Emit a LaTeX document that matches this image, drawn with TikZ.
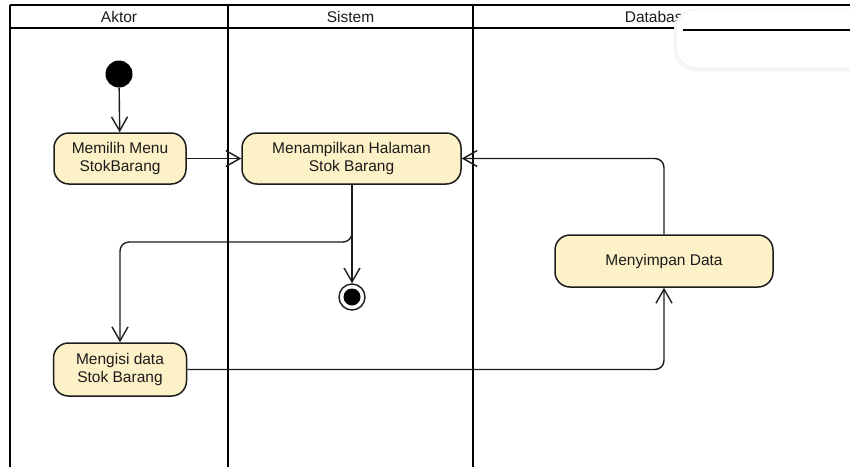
\documentclass[tikz,border=0pt]{standalone}
\usepackage{fontspec}
\setmainfont{Liberation Sans}
\usetikzlibrary{arrows.meta}
\definecolor{actfill}{RGB}{253,241,199}
\definecolor{ink}{RGB}{28,28,28}
\begin{document}
\begin{tikzpicture}[x=1pt,y=-1pt,
  lane/.style={line width=2.8pt,black},
  hdr/.style={font=\fontsize{15.5}{18}\selectfont,text=ink},
  action/.style={draw=ink,line width=1.5pt,fill=actfill,rounded corners=15pt,
    align=center,font=\fontsize{15.5}{18.5}\selectfont,text=ink,inner sep=2pt},
  flow/.style={draw=ink,line width=1.4pt,
    -{Straight Barb[length=14pt,width=16pt,line width=1.4pt]}}]
  \useasboundingbox (0,0) rectangle (850,467);
  \fill[white] (0,0) rectangle (850,467);

  % swimlane frame
  \draw[line width=2pt] (10,5) -- (850,5);
  \draw[lane] (10,28) -- (850,28);
  \draw[lane] (10,5) -- (10,467);
  \draw[lane] (228,5) -- (228,467);
  \draw[lane] (473,5) -- (473,467);

  % lane titles
  \node[hdr] (hAktor) at (119,16.5) {Aktor};
  \node[hdr] (hSistem) at (350.5,16.5) {Sistem};
  \node[hdr] (hDb) at (658,16.5) {Database};

  % activities
  \node[action,minimum width=132pt,minimum height=51pt] (pilih) at (120,158.5) {Memilih Menu\\StokBarang};
  \node[action,minimum width=219pt,minimum height=51pt] (tampil) at (351.5,158.5) {Menampilkan Halaman\\Stok Barang};
  \node[action,minimum width=218pt,minimum height=52pt] (simpan) at (664,261) {Menyimpan Data};
  \node[action,minimum width=133pt,minimum height=53pt] (isi) at (120,369.5) {Mengisi data\\Stok Barang};

  % start and end
  \node[circle,fill=black,minimum size=27pt,inner sep=0pt] (start) at (119,74) {};
  \node[circle,draw=ink,line width=1.4pt,fill=white,minimum size=26pt,inner sep=0pt] (end) at (352,297) {};
  \node[circle,fill=black,minimum size=17pt,inner sep=0pt] (endDot) at (end.center) {};

  % control flow
  \draw[flow] (start) -- (pilih);
  \draw[flow] (pilih.east) -- (tampil.west);
  \draw[flow] (tampil.south -| end) -- (end);
  \draw[flow,rounded corners=9pt] (tampil.south -| end) -- (352,242) -- (120,242) -- (isi.north);
  \draw[flow,rounded corners=9pt] (isi.east) -- (isi.east -| simpan) -- (simpan.south);
  \draw[flow,rounded corners=9pt] (simpan.north) -- (simpan.north |- tampil.east) -- (tampil.east);

  % floating panel lying over the title row
  \fill[black!4,rounded corners=21pt] (674,9) rectangle (872,71);
  \fill[white,rounded corners=20pt] (677,10) rectangle (870,67);
  \draw[lane] (683,30) -- (850,30);
\end{tikzpicture}
\end{document}
